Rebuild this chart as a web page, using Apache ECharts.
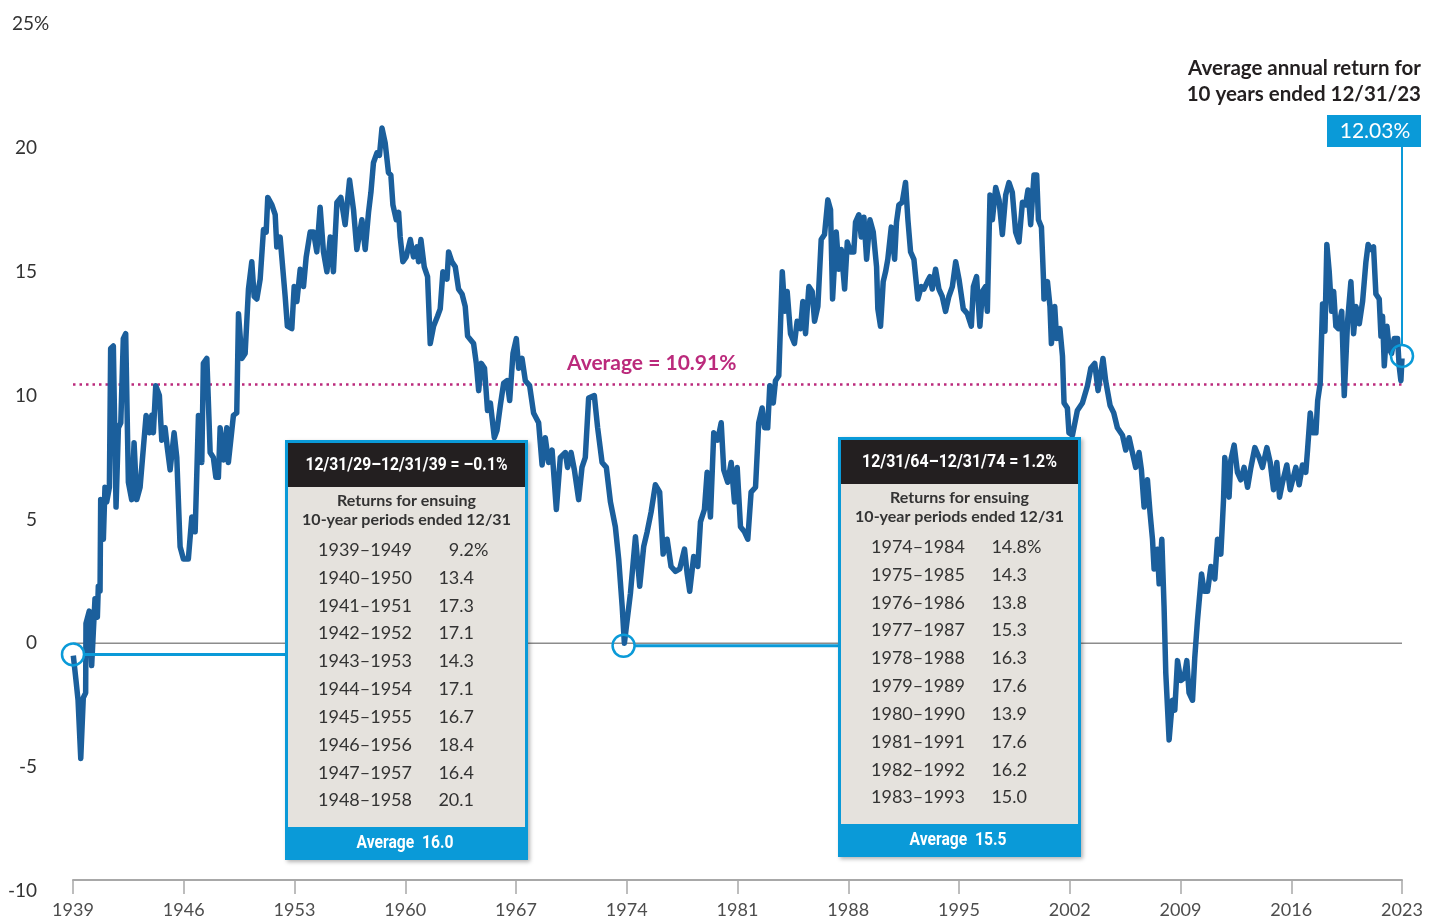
<!DOCTYPE html>
<html>
<head>
<meta charset="utf-8">
<script src="https://cdn.jsdelivr.net/npm/echarts/dist/echarts.min.js"></script>
<style>
  html, body { margin: 0; padding: 0; background: #fff; }
  #chart { width: 1429px; height: 922px; }
</style>
</head>
<body>
<div id="chart"></div>
<script>
// rolling 10-year annualised return (year, %)
var years = [
  1939.02,1939.19,1939.32,1939.49,1939.65,1939.80,1939.82,1940.03,1940.18,1940.28,
  1940.39,1940.54,1940.60,1940.71,1940.75,1940.92,1941.02,1941.13,1941.30,1941.38,
  1941.55,1941.72,1941.87,1942.02,1942.18,1942.33,1942.50,1942.71,1942.86,1943.03,
  1943.24,1943.45,1943.62,1943.83,1943.98,1944.08,1944.23,1944.46,1944.61,1944.82,
  1944.96,1945.14,1945.39,1945.56,1945.77,1945.98,1946.29,1946.51,1946.72,1946.93,
  1947.14,1947.24,1947.46,1947.67,1947.87,1948.03,1948.19,1948.30,1948.51,1948.72,
  1948.82,1949.04,1949.14,1949.35,1949.46,1949.67,1949.88,1950.09,1950.30,1950.45,
  1950.62,1950.83,1951.04,1951.21,1951.31,1951.57,1951.78,1951.88,1952.09,1952.41,
  1952.55,1952.83,1952.98,1953.15,1953.36,1953.57,1953.74,1953.99,1954.20,1954.41,
  1954.62,1954.83,1955.05,1955.26,1955.46,1955.68,1955.93,1956.20,1956.48,1956.73,
  1956.94,1957.26,1957.47,1957.68,1957.83,1957.99,1958.21,1958.37,1958.53,1958.73,
  1958.94,1959.09,1959.22,1959.43,1959.58,1959.68,1959.85,1960.06,1960.32,1960.52,
  1960.74,1960.84,1960.99,1961.20,1961.41,1961.58,1961.79,1962.04,1962.21,1962.38,
  1962.64,1962.74,1962.95,1963.16,1963.37,1963.59,1963.79,1963.94,1964.32,1964.49,
  1964.64,1964.81,1965.01,1965.20,1965.38,1965.63,1965.80,1966.01,1966.22,1966.43,
  1966.60,1966.81,1967.02,1967.17,1967.38,1967.59,1967.86,1968.11,1968.43,1968.65,
  1968.85,1969.06,1969.28,1969.55,1969.80,1970.12,1970.26,1970.48,1970.69,1970.96,
  1971.17,1971.38,1971.59,1971.95,1972.16,1972.44,1972.71,1972.97,1973.28,1973.49,
  1973.71,1973.85,1974.02,1974.23,1974.55,1974.82,1975.07,1975.29,1975.54,1975.81,
  1976.08,1976.30,1976.55,1976.80,1977.08,1977.35,1977.65,1977.82,1977.98,1978.23,
  1978.49,1978.66,1978.91,1979.08,1979.29,1979.50,1979.75,1979.97,1980.13,1980.38,
  1980.60,1980.81,1980.98,1981.19,1981.44,1981.65,1981.86,1982.14,1982.34,1982.56,
  1982.71,1982.91,1983.04,1983.26,1983.40,1983.61,1983.83,1983.99,1984.14,1984.35,
  1984.60,1984.77,1984.98,1985.13,1985.30,1985.51,1985.72,1985.87,1986.08,1986.29,
  1986.50,1986.71,1986.88,1987.01,1987.24,1987.41,1987.56,1987.77,1987.94,1988.14,
  1988.35,1988.46,1988.67,1988.82,1988.99,1989.16,1989.37,1989.58,1989.79,1989.87,
  1990.04,1990.21,1990.36,1990.50,1990.72,1990.93,1991.05,1991.20,1991.41,1991.62,
  1991.77,1991.94,1992.15,1992.40,1992.62,1992.78,1993.00,1993.16,1993.31,1993.52,
  1993.73,1993.94,1994.15,1994.36,1994.58,1994.79,1995.00,1995.27,1995.53,1995.78,
  1995.91,1996.11,1996.32,1996.48,1996.68,1996.79,1996.96,1997.11,1997.32,1997.53,
  1997.74,1997.95,1998.16,1998.37,1998.58,1998.79,1999.01,1999.21,1999.36,1999.53,
  1999.74,1999.91,2000.02,2000.21,2000.34,2000.37,2000.59,2000.75,2000.84,2001.05,
  2001.17,2001.38,2001.54,2001.64,2001.85,2001.95,2002.17,2002.48,2002.80,2003.12,
  2003.33,2003.58,2003.79,2003.96,2004.10,2004.27,2004.55,2004.78,2005.01,2005.33,
  2005.54,2005.75,2005.96,2006.17,2006.38,2006.53,2006.70,2006.91,2007.07,2007.23,
  2007.33,2007.54,2007.65,2007.82,2007.96,2008.07,2008.28,2008.49,2008.64,2008.81,
  2009.02,2009.23,2009.40,2009.54,2009.76,2009.90,2010.07,2010.33,2010.49,2010.71,
  2010.92,2011.17,2011.34,2011.55,2011.72,2011.80,2012.07,2012.18,2012.39,2012.60,
  2012.81,2013.02,2013.24,2013.45,2013.70,2013.97,2014.18,2014.46,2014.67,2014.88,
  2015.09,2015.26,2015.45,2015.72,2015.93,2016.29,2016.50,2016.71,2016.92,2017.03,
  2017.20,2017.35,2017.56,2017.67,2017.83,2017.98,2018.13,2018.25,2018.40,2018.55,
  2018.68,2018.82,2018.97,2019.19,2019.35,2019.56,2019.77,2019.94,2020.09,2020.30,
  2020.51,2020.72,2020.86,2021.03,2021.20,2021.35,2021.56,2021.67,2021.77,2021.88,
  2022.05,2022.19,2022.34,2022.51,2022.72,2022.82,2022.93,2023.00
];
var returns = [
  -0.5,-1.5,-2.3,-4.65,-2.2,-2.0,0.8,1.3,-0.9,0.4,
  1.8,1.05,2.3,2.1,5.8,4.2,6.3,5.7,6.3,11.9,
  12.0,5.5,8.7,8.9,12.3,12.5,6.5,5.8,8.1,5.8,
  6.3,7.9,9.2,8.5,9.2,8.5,10.4,10.0,8.2,8.7,
  7.9,7.0,8.5,7.5,3.9,3.4,3.4,5.1,4.5,9.2,
  7.3,11.3,11.5,7.7,7.5,6.7,6.7,8.7,7.4,8.7,
  7.3,8.6,9.2,9.3,13.3,11.5,11.7,14.3,15.4,14.0,
  13.9,14.7,16.7,16.6,18.0,17.7,17.3,16.0,16.4,14.0,
  12.8,12.7,14.4,13.8,15.1,14.4,15.6,16.6,16.6,15.8,
  17.6,15.8,15.0,16.4,15.0,17.8,18.0,16.9,18.7,17.5,
  15.9,17.1,15.9,17.4,18.2,19.4,19.8,19.7,20.8,20.2,
  19.0,18.9,17.7,17.1,17.4,16.4,15.4,15.6,16.3,15.6,
  16.0,15.4,16.3,15.2,14.8,12.1,12.8,13.2,13.5,15.0,
  14.7,15.8,15.4,15.2,14.3,14.1,13.6,12.4,12.1,11.3,
  10.2,11.3,11.1,9.4,9.7,8.3,8.6,9.6,10.5,10.6,
  9.8,11.7,12.3,11.1,11.5,10.6,10.4,9.3,8.9,7.2,
  8.3,7.3,7.8,5.4,7.5,7.7,7.1,7.7,7.0,5.8,
  7.1,7.5,9.9,10.0,8.7,7.3,7.1,5.7,4.7,3.4,
  1.5,0.0,0.9,2.0,4.3,2.3,3.9,4.5,5.3,6.4,
  6.1,3.6,4.2,3.1,2.9,3.0,3.8,2.8,2.1,3.5,
  3.1,4.9,5.4,6.9,5.1,8.5,8.2,8.9,7.0,6.5,
  7.3,5.7,7.1,4.7,4.5,4.2,6.1,6.3,8.9,9.5,
  8.7,8.7,10.4,9.7,10.6,10.8,15.0,13.4,14.2,12.5,
  12.1,13.0,12.7,13.8,12.5,14.4,14.2,13.0,13.6,16.3,
  16.5,17.9,17.5,13.9,16.6,15.1,15.9,14.3,16.2,15.8,
  15.8,17.0,17.3,16.4,17.2,15.5,17.1,16.6,15.2,13.5,
  12.8,14.6,15.0,15.5,16.8,15.5,17.0,17.7,17.8,18.6,
  17.1,15.8,15.5,13.9,14.4,14.3,14.6,14.8,14.3,15.1,
  14.3,14.0,13.4,14.0,14.4,15.4,14.7,13.5,13.3,12.8,
  14.4,14.8,12.8,14.2,14.4,13.4,18.1,17.1,18.4,17.9,
  16.5,18.1,18.6,18.2,16.6,16.2,17.8,17.7,18.3,16.9,
  18.9,18.9,17.1,16.8,14.7,13.9,14.6,13.6,12.1,13.6,
  12.3,12.7,11.6,9.7,9.5,8.5,8.4,9.4,9.7,10.4,
  11.1,11.3,10.2,10.9,11.5,10.6,9.6,9.3,8.7,8.4,
  7.8,8.3,7.7,7.1,7.7,7.0,5.5,6.6,5.3,4.2,
  3.0,3.8,2.4,4.2,1.5,-1.2,-3.9,-2.3,-2.7,-0.7,
  -1.5,-1.4,-0.7,-2.0,-2.3,-0.6,0.9,2.8,2.1,2.1,
  3.1,2.6,4.2,3.6,5.8,7.5,5.9,7.4,8.0,6.9,
  6.6,7.1,6.3,7.1,7.9,7.5,7.1,7.9,7.3,6.2,
  7.3,5.9,6.5,7.2,6.2,7.1,6.4,7.2,6.9,7.8,
  9.3,8.5,8.5,9.8,10.5,13.7,12.6,16.1,15.0,13.4,
  14.2,12.8,12.7,13.4,10.0,13.0,14.6,12.5,13.6,12.9,
  13.8,15.4,16.1,15.9,16.0,14.1,13.9,12.4,13.2,11.2,
  12.8,11.9,11.7,12.3,12.3,11.2,10.6,11.5
];

var averageReturn = 10.91;   // label text
var averageLineAt = 10.45;   // where the dotted line sits in the reference
var latestReturn = 12.03;

// circled points: end of 1929-39, end of 1964-74, end of 2023
var marks = [[1939, -0.45], [1973.8, -0.1], [2023, 11.6]];

var table1Head = '12/31/29–12/31/39 = –0.1%';
var table1Periods = ['1939–1949','1940–1950','1941–1951','1942–1952','1943–1953',
                     '1944–1954','1945–1955','1946–1956','1947–1957','1948–1958'];
var table1Returns = [9.2, 13.4, 17.3, 17.1, 14.3, 17.1, 16.7, 18.4, 16.4, 20.1];
var table1Avg = 16.0;

var table2Head = '12/31/64–12/31/74 = 1.2%';
var table2Periods = ['1974–1984','1975–1985','1976–1986','1977–1987','1978–1988',
                     '1979–1989','1980–1990','1981–1991','1982–1992','1983–1993'];
var table2Returns = [14.8, 14.3, 13.8, 15.3, 16.3, 17.6, 13.9, 17.6, 16.2, 15.0];
var table2Avg = 15.5;

var FONT = 'Lato, "Noto Sans", sans-serif';
var COND = 'Roboto, "Noto Sans", sans-serif';
var BLUE = '#0a9ad8';
var NAVY = '#1b5f9c';
var MAGENTA = '#bb2a7c';

var points = years.map(function(y, i) { return [y, returns[i]]; });

var chart = echarts.init(document.getElementById('chart'));

var yBase = {
  type: 'value', min: -10, max: 25, interval: 5, position: 'left',
  axisLine: { show: false }, axisTick: { show: false }, splitLine: { show: false }
};

var option = {
  animation: false,
  grid: { left: 73, right: 27, top: 24, bottom: 31 },
  xAxis: {
    type: 'value', min: 1939, max: 2023, interval: 7, offset: -11,
    axisLine: { onZero: false, lineStyle: { color: '#a8a8a8', width: 2 } },
    axisTick: { length: 14, lineStyle: { color: '#a8a8a8', width: 1.5 } },
    axisLabel: { margin: 21, fontSize: 18, color: '#4d4d4d', fontFamily: FONT,
      formatter: function(v) { return String(v); } },
    splitLine: { show: false }
  },
  yAxis: [
    // numbers, right-aligned
    Object.assign({}, yBase, {
      axisLabel: { margin: 36, fontSize: 19, color: '#333', fontFamily: FONT,
        formatter: function(v) { return v === 25 ? '' : String(v); } }
    }),
    // the top label carries the unit and hangs further right
    Object.assign({}, yBase, {
      axisLabel: { margin: 61, align: 'left', fontSize: 19, color: '#333', fontFamily: FONT,
        formatter: function(v) { return v === 25 ? '25%' : ''; } }
    })
  ],
  series: [
    { type: 'line', z: 1, silent: true, showSymbol: false,
      data: [[1939, 0], [2023, 0]],
      lineStyle: { color: '#8c8c8c', width: 1.5 } },
    { type: 'line', z: 1, silent: true, showSymbol: false,
      data: [[1939, averageLineAt], [2023, averageLineAt]],
      lineStyle: { color: MAGENTA, width: 2.5, type: [2.5, 4] } },
    { type: 'line', z: 3, showSymbol: false, data: points,
      lineStyle: { color: NAVY, width: 5.5, join: 'round' } }
  ]
};
chart.setOption(option);

function px(p) { return chart.convertToPixel({ gridIndex: 0 }, p); }

// condensed look: squeeze text horizontally to the width it takes in the reference
var measure = document.createElement('canvas').getContext('2d');
function squeeze(s, size, family, target) {
  measure.font = 'bold ' + size + 'px ' + family;
  return Math.min(1, target / measure.measureText(s).width);
}

function txt(x, y, s, size, color, weight, family, align, sx) {
  return { type: 'text', x: x, y: y, z: 20, scaleX: sx || 1,
    style: { text: s, fontSize: size, fill: color, fontWeight: weight || 'normal',
      fontFamily: family || FONT, align: align || 'center', verticalAlign: 'middle' } };
}

function tableBox(left, top, head, headW, periods, vals, avg) {
  var w = 243, h = 420;
  var foot = 'Average  ' + avg.toFixed(1);
  var els = [
    { type: 'rect', z: 15, shape: { x: left, y: top, width: w, height: h },
      style: { fill: BLUE, shadowBlur: 4, shadowOffsetX: 2, shadowOffsetY: 2, shadowColor: 'rgba(0,0,0,0.3)' } },
    { type: 'rect', z: 16, shape: { x: left + 3, y: top + 3, width: w - 6, height: 44 }, style: { fill: '#231f20' } },
    { type: 'rect', z: 16, shape: { x: left + 3, y: top + 47, width: w - 6, height: 340 }, style: { fill: '#e5e2dd' } },
    txt(left + w / 2, top + 25, head, 19, '#fff', 'bold', COND, 'center', squeeze(head, 19, COND, headW)),
    txt(left + w / 2, top + 61, 'Returns for ensuing', 16, '#333', 'bold'),
    txt(left + w / 2, top + 80, '10-year periods ended 12/31', 16, '#333', 'bold'),
    txt(left + 120, top + 403, foot, 18, '#fff', 'bold', COND, 'center', squeeze(foot, 18, COND, 97))
  ];
  periods.forEach(function(p, i) {
    var y = top + 110 + i * 27.85;
    els.push(txt(left + 33, y, p, 18, '#333', 'normal', FONT, 'left'));
    els.push(txt(left + 189, y, vals[i].toFixed(1), 18, '#333', 'normal', FONT, 'right'));
    if (i === 0) els.push(txt(left + 189, y, '%', 18, '#333', 'normal', FONT, 'left'));
  });
  return els;
}

var c1 = px(marks[0]), c2 = px(marks[1]), c3 = px(marks[2]);
var r = 11;
var avgPos = px([1975.7, averageLineAt]);

var graphics = [];
[c1, c2, c3].forEach(function(c) {
  graphics.push({ type: 'circle', z: 12, shape: { cx: c[0], cy: c[1], r: r },
    style: { fill: 'none', stroke: BLUE, lineWidth: 2.5 } });
});
graphics.push({ type: 'line', z: 12, shape: { x1: c1[0] + r, y1: c1[1], x2: 286, y2: c1[1] },
  style: { stroke: BLUE, lineWidth: 3 } });
graphics.push({ type: 'line', z: 12, shape: { x1: c2[0] + r, y1: c2[1], x2: 839, y2: c2[1] },
  style: { stroke: BLUE, lineWidth: 3 } });
graphics.push({ type: 'line', z: 12, shape: { x1: c3[0], y1: c3[1] - r, x2: c3[0], y2: 146 },
  style: { stroke: BLUE, lineWidth: 2 } });

graphics = graphics.concat(tableBox(285, 440, table1Head, 202, table1Periods, table1Returns, table1Avg));
graphics = graphics.concat(tableBox(838, 437, table2Head, 195, table2Periods, table2Returns, table2Avg));

graphics.push(txt(avgPos[0] - 2, avgPos[1] - 21, 'Average = ' + averageReturn.toFixed(2) + '%', 21, MAGENTA, 'bold'));

graphics.push(txt(1421, 68, 'Average annual return for', 20.5, '#231f20', 'bold', FONT, 'right'));
graphics.push(txt(1421, 94, '10 years ended 12/31/23', 20.5, '#231f20', 'bold', FONT, 'right'));
graphics.push({ type: 'rect', z: 15, shape: { x: 1327, y: 115, width: 94, height: 32 }, style: { fill: BLUE } });
graphics.push(txt(1375, 131.5, latestReturn.toFixed(2) + '%', 21, '#fff', 'normal'));

chart.setOption({ graphic: graphics });
</script>
</body>
</html>
